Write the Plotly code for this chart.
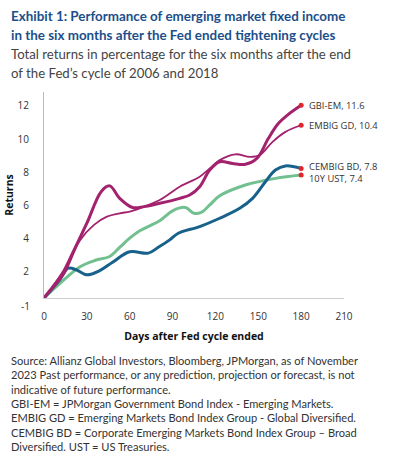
import plotly.graph_objects as go

# ---- data ----
gbi_days = [0, 13, 20, 30, 40, 46, 53, 62, 70, 81, 95, 102, 109, 116, 123, 132, 141, 149, 157, 164, 171, 180]
gbi_vals = [0, 1.5, 2.7, 4.5, 6.4, 6.75, 6.0, 5.45, 5.5, 5.7, 6.0, 6.2, 6.7, 7.7, 8.2, 8.1, 8.05, 8.4, 9.6, 10.5, 11.05, 11.6]

embig_days = [0, 14, 25, 35, 44, 53, 60, 67, 81, 95, 109, 116, 123, 134, 144, 151, 160, 169, 180]
embig_vals = [0, 1.45, 3.45, 4.4, 4.9, 5.1, 5.2, 5.4, 5.9, 6.7, 7.3, 7.8, 8.3, 8.65, 8.5, 8.6, 9.4, 10.0, 10.4]

cembig_days = [0, 11, 17, 23, 30, 39, 48, 60, 73, 80, 88, 94, 109, 123, 137, 146, 155, 162, 169, 180]
cembig_vals = [0, 1.1, 1.8, 1.68, 1.4, 1.65, 2.15, 2.78, 2.7, 3.05, 3.5, 3.9, 4.3, 4.8, 5.4, 6.0, 7.0, 7.7, 7.95, 7.8]

ust_days = [0, 11, 25, 36, 46, 53, 60, 67, 81, 90, 99, 105, 110, 116, 123, 141, 162, 180]
ust_vals = [0, 0.87, 1.87, 2.27, 2.5, 3.05, 3.6, 4.05, 4.65, 5.25, 5.45, 5.1, 5.15, 5.6, 6.15, 6.8, 7.2, 7.4]

end_labels = ["GBI-EM, 11.6", "EMBIG GD, 10.4", "CEMBIG BD, 7.8", "10Y UST, 7.4"]
end_values = [11.6, 10.4, 7.8, 7.4]

x_ticks = [0, 30, 60, 90, 120, 150, 180, 210]
y_tick_text = ["2", "4", "6", "8", "10", "12"]
y_tick_pos = [1.57, 3.57, 5.57, 7.57, 9.57, 11.57]

title_lines = ["Exhibit 1: Performance of emerging market fixed income",
               "in the six months after the Fed ended tightening cycles"]
subtitle_lines = ["Total returns in percentage for the six months after the end",
                  "of the Fed\u2019s cycle of 2006 and 2018"]
footer_lines = [
    "Source: Allianz Global Investors, Bloomberg, JPMorgan, as of November",
    "2023 Past performance, or any prediction, projection or forecast, is not",
    "indicative of future performance.",
    "GBI-EM = JPMorgan Government Bond Index - Emerging Markets.",
    "EMBIG GD = Emerging Markets Bond Index Group - Global Diversified.",
    "CEMBIG BD = Corporate Emerging Markets Bond Index Group \u2013 Broad",
    "Diversified. UST = US Treasuries.",
]

MAG = "#a3226e"
BLUE = "#17618b"
GREEN = "#72c08f"
RED = "#e0262a"

fig = go.Figure()
fig.add_trace(go.Scatter(x=ust_days, y=ust_vals, mode="lines",
                         line=dict(color=GREEN, width=3, shape="spline", smoothing=1.0)))
fig.add_trace(go.Scatter(x=cembig_days, y=cembig_vals, mode="lines",
                         line=dict(color=BLUE, width=3, shape="spline", smoothing=1.0)))
fig.add_trace(go.Scatter(x=embig_days, y=embig_vals, mode="lines",
                         line=dict(color=MAG, width=1.8, shape="spline", smoothing=1.0)))
fig.add_trace(go.Scatter(x=gbi_days, y=gbi_vals, mode="lines",
                         line=dict(color=MAG, width=3, shape="spline", smoothing=1.0)))
fig.add_trace(go.Scatter(x=[180] * 4, y=end_values, mode="markers",
                         marker=dict(color=RED, size=5)))

W, H = 399, 459
L, R, T, B = 44.3, 55, 92, 161.3
ph = H - T - B
pw = W - L - R


def px_x(x):
    return (x - L) / pw


def px_y(y):
    return (H - B - y) / ph


annotations = []
label_shift = [0, 0, 2, -3]
for lab, v, s in zip(end_labels, end_values, label_shift):
    annotations.append(dict(x=180, y=v, xref="x", yref="y", text=lab, showarrow=False,
                            xanchor="left", yanchor="middle", xshift=6, yshift=s,
                            font=dict(family="Open Sans", size=9.4, color="#333333")))
# lowest y tick label (sits below the baseline in the original)
annotations.append(dict(x=px_x(32), y=px_y(305.7), xref="paper", yref="paper", text="-1",
                        showarrow=False, xanchor="right", yanchor="middle",
                        font=dict(family="Open Sans", size=10, color="#333333")))

title_y = [16, 35]
for t, yy in zip(title_lines, title_y):
    annotations.append(dict(x=px_x(9), y=px_y(yy), xref="paper", yref="paper",
                            text="<b>" + t + "</b>",
                            showarrow=False, xanchor="left", yanchor="middle",
                            font=dict(family="Lato", size=13.4, color="#1c4f8a")))
sub_y = [54.3, 72.7]
for t, yy in zip(subtitle_lines, sub_y):
    annotations.append(dict(x=px_x(9), y=px_y(yy), xref="paper", yref="paper", text=t,
                            showarrow=False, xanchor="left", yanchor="middle",
                            font=dict(family="Lato", size=13.2, color="#444444")))
foot_y = [360, 374.3, 388.7, 402.7, 417, 431.7, 445.7]
for t, yy in zip(footer_lines, foot_y):
    annotations.append(dict(x=px_x(9), y=px_y(yy), xref="paper", yref="paper", text=t,
                            showarrow=False, xanchor="left", yanchor="middle",
                            font=dict(family="Lato", size=11.1, color="#333333")))

fig.update_layout(
    width=W, height=H,
    margin=dict(l=L, r=R, t=T, b=B, pad=0, autoexpand=False),
    paper_bgcolor="white", plot_bgcolor="white",
    showlegend=False,
    annotations=annotations,
    font=dict(family="Open Sans", size=10, color="#333333"),
    xaxis=dict(range=[0, 210], tickvals=x_ticks, showgrid=False, zeroline=False,
               showline=True, linecolor="#cccccc", linewidth=1, ticks="",
               automargin=False, ticklabelstandoff=9,
               tickfont=dict(family="Open Sans", size=10, color="#333333"),
               title=dict(text="<b>Days after Fed cycle ended</b>", standoff=10,
                          font=dict(family="Open Sans", size=10.5, color="#111111"))),
    yaxis=dict(range=[0, 12.4], tickvals=y_tick_pos, ticktext=y_tick_text, showgrid=False,
               zeroline=False, showline=True, linecolor="#bbbbbb", linewidth=1, ticks="",
               automargin=False, ticklabelstandoff=12,
               tickfont=dict(family="Open Sans", size=10, color="#333333"),
               title=dict(text="<b>Returns</b>", standoff=1,
                          font=dict(family="Open Sans", size=10.5, color="#111111"))),
)

fig.write_html("out.html", config={"displayModeBar": False},
               post_script="document.body.style.margin='0';")
